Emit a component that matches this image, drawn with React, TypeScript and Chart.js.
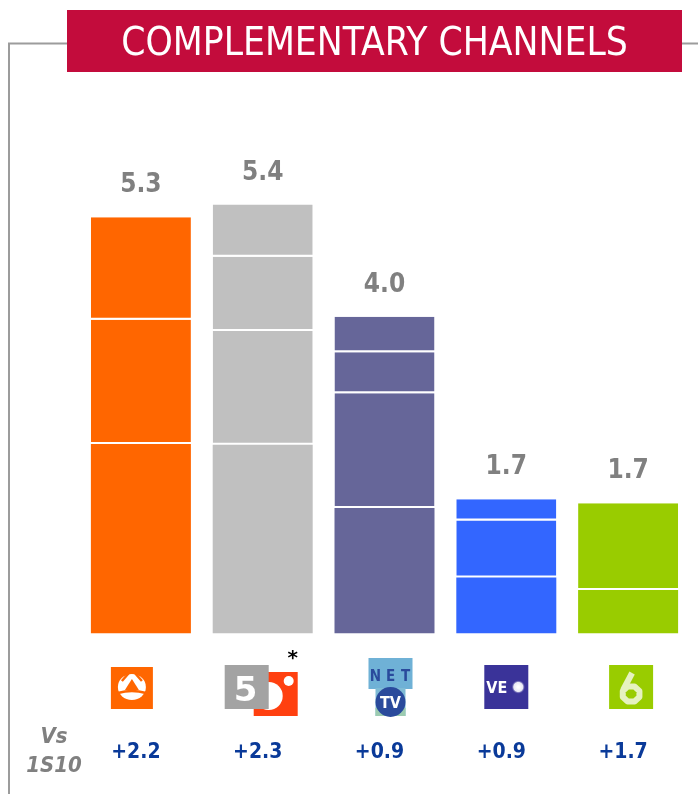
import React, { useEffect, useRef } from 'react';
import { Chart, registerables } from 'chart.js';

Chart.register(...registerables);

// ---- data ----
const categories = ['Antena 3', 'Telecinco', 'Net TV', 'Veo', 'La Sexta'];
const segment1 = [2.40, 2.39, 1.59, 0.71, 0.55];
const segment2 = [1.57, 1.44, 1.45, 0.72, 1.10];
const segment3 = [1.30, 0.94, 0.52, 0.27, null];
const segment4 = [null, 0.66, 0.45, null, null];
const totals = [5.3, 5.4, 4.0, 1.7, 1.7];
const changesVs1S10 = [2.2, 2.3, 0.9, 0.9, 1.7];
const channelColors = ['#FF6600', '#C0C0C0', '#666699', '#3366FF', '#99CC00'];
const titleText = 'COMPLEMENTARY CHANNELS';
const compareLabel = ['Vs', '1S10'];

const layers = [segment1, segment2, segment3, segment4];

const COND = '"DejaVu Sans Condensed", "DejaVu Sans", sans-serif';

function drawLogo(ctx: CanvasRenderingContext2D, idx: number, cx: number) {
  ctx.save();
  if (idx === 0) {
    // Antena 3 style logo
    const x = cx - 30, y = 667;
    ctx.fillStyle = '#FF6600';
    ctx.fillRect(x, y, 42, 42);
    const c = x + 21, m = y + 20;
    ctx.fillStyle = '#FFFFFF';
    ctx.beginPath();
    ctx.ellipse(c, m, 14, 13, 0, 0, Math.PI * 2);
    ctx.fill();
    ctx.fillStyle = '#FF6600';
    ctx.beginPath();
    ctx.moveTo(c, m - 8);
    ctx.lineTo(c + 7, m + 3);
    ctx.lineTo(c - 7, m + 3);
    ctx.closePath();
    ctx.fill();
    ctx.strokeStyle = '#FF6600';
    ctx.lineWidth = 2.5;
    ctx.beginPath();
    ctx.moveTo(c - 14, m + 6);
    ctx.quadraticCurveTo(c, m + 2, c + 14, m + 6);
    ctx.stroke();
    ctx.beginPath();
    ctx.moveTo(c - 10, m - 6);
    ctx.lineTo(c - 3, m - 14);
    ctx.moveTo(c + 10, m - 6);
    ctx.lineTo(c + 3, m - 14);
    ctx.stroke();
  } else if (idx === 1) {
    // Telecinco + red square
    const gx = cx - 38, gy = 665;
    const rx = gx + 29, ry = 672;
    ctx.fillStyle = '#FF4010';
    ctx.fillRect(rx, ry, 44, 44);
    ctx.save();
    ctx.beginPath();
    ctx.rect(rx, ry, 44, 44);
    ctx.clip();
    ctx.fillStyle = '#FFFFFF';
    ctx.beginPath();
    ctx.arc(rx + 15, ry + 24, 14, 0, Math.PI * 2);
    ctx.fill();
    ctx.beginPath();
    ctx.arc(rx + 35, ry + 9, 5, 0, Math.PI * 2);
    ctx.fill();
    ctx.restore();
    ctx.fillStyle = '#A3A3A3';
    ctx.fillRect(gx, gy, 44, 44);
    ctx.fillStyle = '#FFFFFF';
    ctx.font = 'bold 34px "DejaVu Sans", sans-serif';
    ctx.textAlign = 'center';
    ctx.textBaseline = 'alphabetic';
    ctx.fillText('5', gx + 21, gy + 36);
    ctx.fillStyle = '#000000';
    ctx.font = 'bold 20px "DejaVu Sans", sans-serif';
    ctx.fillText('*', rx + 39, 664);
  } else if (idx === 2) {
    // NET TV
    const x = cx - 16, y = 658;
    ctx.fillStyle = '#6FB1D6';
    ctx.fillRect(x, y, 44, 31);
    ctx.fillStyle = '#7FBBD5';
    ctx.fillRect(x + 7, y + 30, 30, 28);
    ctx.fillStyle = '#9CCBB0';
    ctx.fillRect(x + 7, y + 50, 30, 8);
    ctx.fillStyle = '#2A4A9C';
    ctx.beginPath();
    ctx.arc(x + 22, y + 44, 15, 0, Math.PI * 2);
    ctx.fill();
    ctx.font = 'bold 15px ' + COND;
    ctx.textAlign = 'center';
    ctx.textBaseline = 'alphabetic';
    ctx.fillStyle = '#2A4A9C';
    ctx.fillText('N', x + 7, y + 23);
    ctx.fillText('E', x + 22, y + 23);
    ctx.fillText('T', x + 37, y + 23);
    ctx.fillStyle = '#FFFFFF';
    ctx.font = 'bold 16px ' + COND;
    ctx.fillText('TV', x + 22, y + 50);
  } else if (idx === 3) {
    // VEO
    const x = cx - 22, y = 665;
    ctx.fillStyle = '#3A3399';
    ctx.fillRect(x, y, 44, 44);
    ctx.fillStyle = '#FFFFFF';
    ctx.font = 'bold 16px ' + COND;
    ctx.textAlign = 'left';
    ctx.textBaseline = 'alphabetic';
    ctx.fillText('VE', x + 2, y + 28);
    const g = ctx.createRadialGradient(x + 34, y + 22, 1, x + 34, y + 22, 7);
    g.addColorStop(0, '#FFFFFF');
    g.addColorStop(0.6, '#E8E8F4');
    g.addColorStop(1, 'rgba(58,51,153,0)');
    ctx.fillStyle = g;
    ctx.beginPath();
    ctx.arc(x + 34, y + 22, 7, 0, Math.PI * 2);
    ctx.fill();
  } else if (idx === 4) {
    // La Sexta
    const x = cx - 19, y = 665;
    ctx.fillStyle = '#99CC00';
    ctx.fillRect(x, y, 44, 44);
    ctx.strokeStyle = '#E6F2C0';
    ctx.lineWidth = 6;
    ctx.lineJoin = 'round';
    const c = x + 22, m = y + 29;
    ctx.beginPath();
    for (let k = 0; k < 8; k++) {
      const a = (Math.PI / 4) * k + Math.PI / 8;
      const px = c + 9 * Math.cos(a), py = m + 8 * Math.sin(a);
      if (k === 0) ctx.moveTo(px, py); else ctx.lineTo(px, py);
    }
    ctx.closePath();
    ctx.stroke();
    ctx.beginPath();
    ctx.moveTo(c - 8, m - 4);
    ctx.lineTo(c + 1, m - 21);
    ctx.stroke();
  }
  ctx.restore();
}

const decor = {
  id: 'decor',
  afterDraw(chart: any) {
    const ctx: CanvasRenderingContext2D = chart.ctx;
    const xs = chart.scales.x;
    const ys = chart.scales.y;
    ctx.save();

    // frame lines
    ctx.strokeStyle = '#9C9C9C';
    ctx.lineWidth = 2;
    ctx.beginPath();
    ctx.moveTo(9, 794);
    ctx.lineTo(9, 43.5);
    ctx.lineTo(67, 43.5);
    ctx.moveTo(682, 43.5);
    ctx.lineTo(698, 43.5);
    ctx.stroke();

    // title box
    ctx.fillStyle = '#C30C3C';
    ctx.fillRect(67, 10, 615, 62);
    ctx.fillStyle = '#FFFFFF';
    ctx.textAlign = 'center';
    ctx.textBaseline = 'alphabetic';
    ctx.font = '36px ' + COND;
    const w = ctx.measureText(titleText).width;
    const size = Math.min(40, 36 * 507 / w);
    ctx.font = size.toFixed(1) + 'px ' + COND;
    ctx.fillText(titleText, 374.5, 55);

    categories.forEach((_, i) => {
      const cx = xs.getPixelForValue(i);
      let sum = 0;
      layers.forEach((l) => { sum += (l[i] as number) || 0; });
      const top = ys.getPixelForValue(sum);
      // value label
      ctx.fillStyle = '#808080';
      ctx.font = 'bold 26px ' + COND;
      ctx.textAlign = 'center';
      ctx.fillText(totals[i].toFixed(1), cx, top - 25);
      // logo
      drawLogo(ctx, i, cx);
      // change label
      ctx.fillStyle = '#0A3A99';
      ctx.font = 'bold 21px ' + COND;
      ctx.textAlign = 'center';
      ctx.fillText('+' + changesVs1S10[i].toFixed(1), cx - 5, 758);
    });

    // Vs 1S10
    ctx.fillStyle = '#808080';
    ctx.font = 'italic bold 22px ' + COND;
    ctx.textAlign = 'center';
    ctx.fillText(compareLabel[0], 54, 743);
    ctx.fillText(compareLabel[1], 54, 772);

    ctx.restore();
  },
};

export default function App() {
  const ref = useRef<HTMLCanvasElement>(null);
  useEffect(() => {
    const chart = new Chart(ref.current as HTMLCanvasElement, {
      type: 'bar',
      data: {
        labels: categories,
        datasets: layers.map((d, i) => ({
          label: 'segment ' + (i + 1),
          data: d as any,
          backgroundColor: channelColors,
          borderColor: '#FFFFFF',
          borderWidth: i === 0 ? 0 : { top: 0, bottom: 2, left: 0, right: 0 },
          borderSkipped: false,
          barPercentage: 0.821,
          categoryPercentage: 1,
          stack: 'total',
        })) as any,
      },
      options: {
        responsive: false,
        animation: false,
        layout: { padding: { left: 80, right: 9, top: 159.5, bottom: 160.5 } },
        scales: {
          x: { display: false, stacked: true },
          y: { display: false, stacked: true, min: 0, max: 6 },
        },
        plugins: {
          legend: { display: false },
          tooltip: { enabled: false },
          title: { display: false },
        },
      },
      plugins: [decor],
    });
    return () => chart.destroy();
  }, []);
  return (
    <div style={{ position: 'fixed', left: 0, top: 0, width: 698, height: 794, background: '#FFFFFF' }}>
      <canvas ref={ref} width={698} height={794} style={{ width: 698, height: 794, display: 'block' }} />
    </div>
  );
}
